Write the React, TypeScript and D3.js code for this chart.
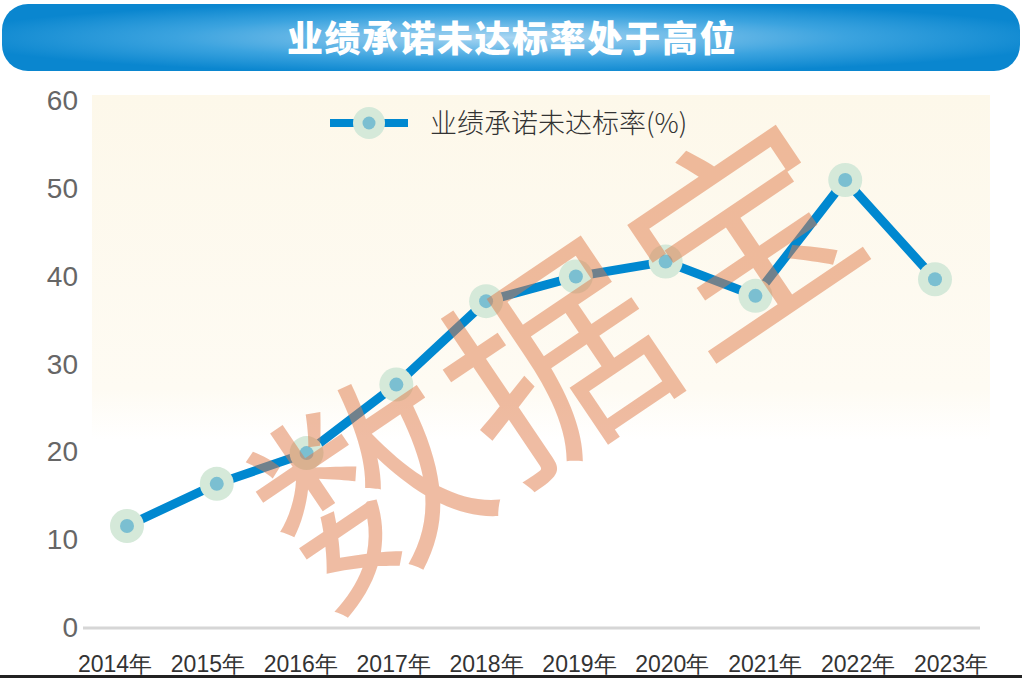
import React from "react";
import * as d3 from "d3";

const years = ["2014年", "2015年", "2016年", "2017年", "2018年", "2019年", "2020年", "2021年", "2022年", "2023年"];
const rates = [11.5, 16.3, 19.8, 27.6, 37.1, 39.9, 41.6, 37.7, 50.9, 39.6];
const yTicks = [0, 10, 20, 30, 40, 50, 60];
const title = "业绩承诺未达标率处于高位";
const seriesName = "业绩承诺未达标率(%)";
const watermark = "数据宝";

export default function App() {
  const W = 1022, H = 678;
  const x = d3.scalePoint<string>().domain(years).range([127, 935]);
  const xl = d3.scalePoint<string>().domain(years).range([115, 951]);
  const y = d3.scaleLinear().domain([0, 60]).range([627, 100]);
  const line = d3.line<number>().x((_, i) => x(years[i])!).y((d) => y(d));

  return (
    <svg width={W} height={H} style={{ position: "absolute", left: 0, top: 0, background: "#fff" }}>
      <defs>
        <radialGradient id="tg" cx="50%" cy="50%" r="55%" fx="50%" fy="50%">
          <stop offset="0%" stopColor="#a9d6f2" />
          <stop offset="60%" stopColor="#3ba3df" />
          <stop offset="100%" stopColor="#0a86cf" />
        </radialGradient>
        <linearGradient id="bg" x1="0" y1="0" x2="0" y2="1">
          <stop offset="0%" stopColor="#fdf8ea" />
          <stop offset="85%" stopColor="#fefbf3" />
          <stop offset="100%" stopColor="#ffffff" />
        </linearGradient>
      </defs>
      <rect x={0} y={0} width={W} height={H} fill="#fff" />
      <rect x={2} y={4} width={1018} height={67} rx={26} fill="url(#tg)" />
      <text x={512} y={52} textAnchor="middle" fill="#fff" fontSize={36} fontWeight={900}
        letterSpacing={1.5} style={{ fontFamily: "'Noto Sans CJK SC'" }}>{title}</text>

      <rect x={92} y={95} width={898} height={345} fill="url(#bg)" />

      {yTicks.map((t) => (
        <text key={t} x={78} y={y(t) + 10} textAnchor="end" fill="#666" fontSize={28}
          style={{ fontFamily: "'Liberation Sans', Arial, sans-serif" }}>{t}</text>
      ))}
      <line x1={83} x2={980} y1={628} y2={628} stroke="#d6d6d6" strokeWidth={3} />

      {years.map((yr) => (
        <text key={yr} x={xl(yr)!} y={672} textAnchor="middle" fill="#333" fontSize={23}
          style={{ fontFamily: "'Liberation Sans', Arial, sans-serif" }}>{yr}</text>
      ))}

      {/* legend */}
      <line x1={330} x2={408} y1={123} y2={123} stroke="#0088d0" strokeWidth={8} />
      <circle cx={369} cy={123} r={16} fill="#d5e9d9" />
      <circle cx={369} cy={123} r={6.5} fill="#7bbfd1" />
      <text x={430} y={133} fill="#333" fontSize={27}
        style={{ fontFamily: "'Noto Sans CJK SC', sans-serif", fontWeight: 300 }}>{seriesName}</text>

      <path d={line(rates)!} fill="none" stroke="#0088d0" strokeWidth={9} strokeLinejoin="miter" />
      {rates.map((v, i) => (
        <g key={i}>
          <circle cx={x(years[i])!} cy={y(v)} r={17} fill="#d5e9d9" />
          <circle cx={x(years[i])!} cy={y(v)} r={7} fill="#7bbfd1" />
        </g>
      ))}

      <text x={0} y={0} transform="translate(553,348) rotate(-34)" textAnchor="middle" dominantBaseline="central"
        fill="#e07b4a" opacity={0.5} fontSize={215} letterSpacing={10}
        style={{ fontFamily: "'Noto Sans CJK SC'", fontWeight: 400 }}>{watermark}</text>

      <rect x={0} y={675} width={W} height={3} fill="#222" />
    </svg>
  );
}
